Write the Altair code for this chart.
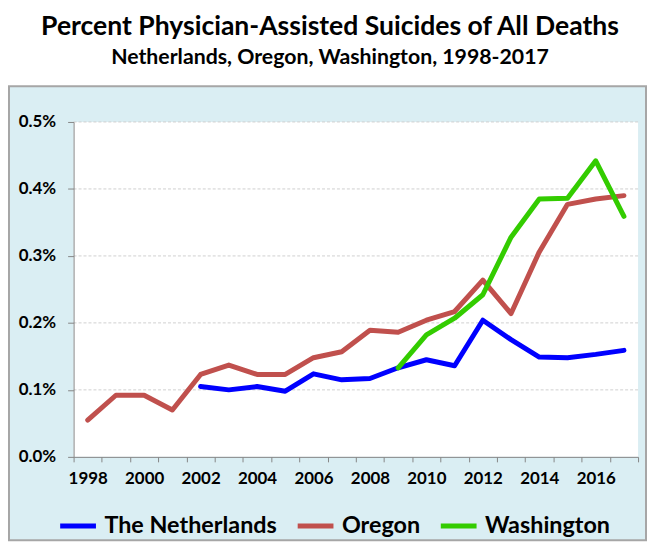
import altair as alt
import pandas as pd

# ---- data (percent of all deaths) ----
years = list(range(1998, 2018))
netherlands_years = list(range(2002, 2018))
netherlands = [0.105, 0.100, 0.105, 0.098, 0.124, 0.115, 0.117, 0.133,
               0.145, 0.136, 0.204, 0.175, 0.149, 0.148, 0.153, 0.159]
oregon_years = list(range(1998, 2018))
oregon = [0.055, 0.092, 0.092, 0.070, 0.123, 0.137, 0.123, 0.123, 0.148, 0.157,
          0.189, 0.186, 0.204, 0.217, 0.264, 0.214, 0.306, 0.377, 0.385, 0.390]
washington_years = list(range(2009, 2018))
washington = [0.133, 0.182, 0.207, 0.242, 0.328, 0.385, 0.386, 0.442, 0.359]

series_names = ["The Netherlands", "Oregon", "Washington"]
series_colors = ["#0000FF", "#C0504D", "#33CC00"]
y_ticks = [0.0, 0.1, 0.2, 0.3, 0.4, 0.5]
title_text = "Percent Physician-Assisted Suicides of All Deaths"
subtitle_text = "Netherlands, Oregon, Washington, 1998-2017"

rows = []
for name, yrs, vals in [(series_names[0], netherlands_years, netherlands),
                        (series_names[1], oregon_years, oregon),
                        (series_names[2], washington_years, washington)]:
    for yr, v in zip(yrs, vals):
        rows.append({"year": yr, "value": v, "series": name})
df = pd.DataFrame(rows)

W, H = 568, 337
FONT = "Lato"
one = alt.Data(values=[{}])

yscale = alt.Scale(domain=[0, 0.5], nice=False, zero=True)
xscale = alt.Scale(type="band", paddingInner=0, paddingOuter=0, domain=years)

bg_white = alt.Chart(one).mark_rect(fill="white").encode(
    x=alt.value(-66), x2=alt.value(W + 6), y=alt.value(-113), y2=alt.value(H + 81))
bg_blue = alt.Chart(one).mark_rect(fill="#DAEEF3", stroke="#A6A6A6", strokeWidth=2).encode(
    x=alt.value(-65), x2=alt.value(W + 8), y=alt.value(-36), y2=alt.value(H + 84))
plot_white = alt.Chart(one).mark_rect(fill="white").encode(
    x=alt.value(0), x2=alt.value(W), y=alt.value(0), y2=alt.value(H))

grid = alt.Chart(pd.DataFrame({"value": y_ticks[1:]})).mark_rule(
    color="#D0D0D0", strokeDash=[3, 2], strokeWidth=1).encode(
    y=alt.Y("value:Q", scale=yscale, title=None),
    x=alt.value(0), x2=alt.value(W))

lines = alt.Chart(df).mark_line(strokeWidth=5, strokeCap="round", strokeJoin="round").encode(
    x=alt.X("year:O", scale=xscale, title=None,
            axis=alt.Axis(tickBand="extent", labelAngle=0,
                          labelExpr="datum.value % 2 == 0 ? datum.label : ''",
                          tickSize=5, tickColor="#868686", domainColor="#868686",
                          labelFont=FONT, labelFontWeight="bold", labelFontSize=17,
                          labelColor="black", labelPadding=9, grid=False, zindex=1)),
    y=alt.Y("value:Q", scale=yscale, title=None,
            axis=alt.Axis(values=y_ticks, labelExpr="format(datum.value, '.1f') + '%'",
                          tickSize=6, tickColor="#868686", domainColor="#868686",
                          labelFont=FONT, labelFontWeight="bold", labelFontSize=17,
                          labelColor="black", labelPadding=12, grid=False, zindex=1)),
    color=alt.Color("series:N", scale=alt.Scale(domain=series_names, range=series_colors),
                    legend=alt.Legend(orient="none", legendX=-16, legendY=386,
                                      direction="horizontal", title=None,
                                      symbolType="stroke", symbolSize=1296,
                                      symbolStrokeWidth=5, labelFont=FONT,
                                      labelFontWeight="bold", labelFontSize=23.5,
                                      labelColor="black", labelOffset=6,
                                      columnPadding=10, labelLimit=0, padding=0,
                                      zindex=1)),
)

title = alt.Chart(one).mark_text(text=title_text, font=FONT, fontWeight="bold", fontSize=26.7,
                                 align="center", baseline="alphabetic", color="black").encode(
    x=alt.value(258), y=alt.value(-88))
subtitle = alt.Chart(one).mark_text(text=subtitle_text, font=FONT, fontWeight="bold", fontSize=21.4,
                                    align="center", baseline="alphabetic", color="black").encode(
    x=alt.value(258), y=alt.value(-58))

chart = alt.layer(bg_white, bg_blue, plot_white, grid, lines, title, subtitle).properties(
    width=W, height=H, padding=0, background="white"
).configure_view(stroke=None)

chart.save("out.html", embed_options={"renderer": "svg", "actions": False})
